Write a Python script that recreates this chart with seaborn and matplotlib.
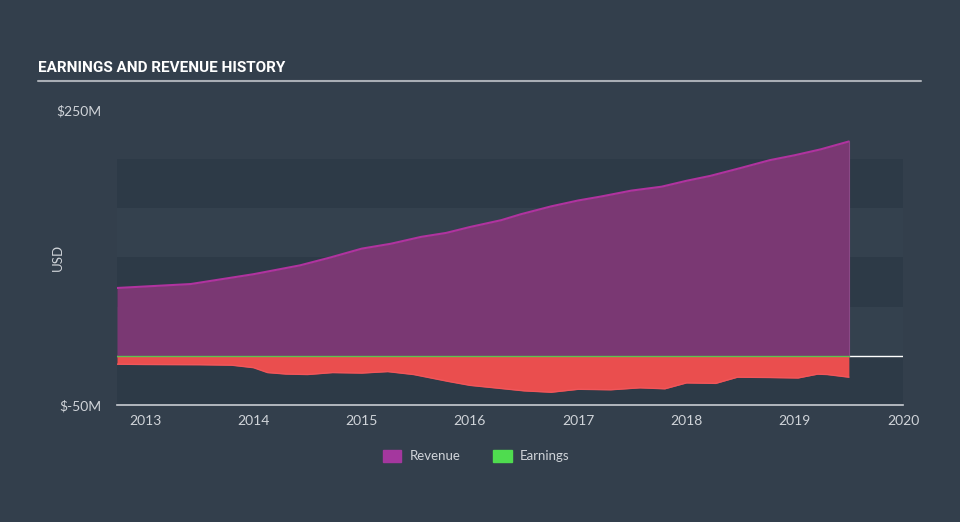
import matplotlib
matplotlib.use("Agg")
import matplotlib.pyplot as plt
import seaborn as sns
import numpy as np
import pandas as pd
from matplotlib.patches import Patch

rev_t = [2012.74, 2013.42, 2014.0, 2014.43, 2014.71, 2015.0, 2015.27, 2015.55, 2015.78,
         2016.0, 2016.29, 2016.47, 2016.75, 2017.0, 2017.21, 2017.49, 2017.77, 2018.0,
         2018.22, 2018.5, 2018.77, 2019.0, 2019.24, 2019.5]
rev_v = [69, 73, 83, 92, 100, 109, 114, 121, 125, 131, 138, 144, 152, 158, 162, 168,
         172, 178, 183, 191, 199, 204, 210, 218]

earn_t = [2012.74, 2013.0, 2013.5, 2013.8, 2014.0, 2014.13, 2014.3, 2014.5, 2014.73, 2015.0,
          2015.24, 2015.48, 2015.8, 2016.0, 2016.27, 2016.5, 2016.75, 2017.0, 2017.3,
          2017.57, 2017.8, 2018.0, 2018.27, 2018.47, 2018.75, 2019.03, 2019.21, 2019.3, 2019.5]
earn_v = [-8.5, -8.8, -9, -9.5, -12, -17, -18.5, -19, -17, -17.5, -16, -19, -26, -30,
          -33, -35.6, -37, -34, -34.5, -32.5, -33.5, -27.5, -28, -21.7, -22, -22.5, -18.6, -19, -21.7]

years = [2013, 2014, 2015, 2016, 2017, 2018, 2019, 2020]
ytick_vals = [-50, 250]
ytick_labels = ["$-50M", "$250M"]

BG = "#333f4c"
BAND = "#2d3a47"
REV_FILL = "#7a3873"
REV_LINE = "#b0339f"
EARN_FILL = "#ea4e4e"
EARN_LINE = "#5ec14f"
TXT = "#d0d4d9"

sns.set_theme(style="white")
plt.rcParams['font.family'] = ['Lato', 'DejaVu Sans']

fig = plt.figure(figsize=(9.6, 5.22), dpi=100, facecolor=BG)
ax = fig.add_axes([117/960, 1-405/522, (903-117)/960, (405-110)/522])
ax.set_facecolor("#34414e")

for lo in [-50, 50, 150]:
    ax.axhspan(lo, lo + 50, color=BAND, zorder=0, lw=0)
ax.axhspan(200, 250, color=BG, zorder=0, lw=0)

ax.axhline(0, color="white", lw=1.0, zorder=1)

rev = pd.DataFrame({"t": rev_t, "v": rev_v})
earn = pd.DataFrame({"t": earn_t, "v": earn_v})

ax.fill_between(rev["t"], 0, rev["v"], color=REV_FILL, lw=0, zorder=2)
sns.lineplot(data=rev, x="t", y="v", ax=ax, color=REV_LINE, lw=1.5, zorder=3)
ax.fill_between(earn["t"], 0, earn["v"], color=EARN_FILL, lw=0, zorder=2)
sns.lineplot(data=earn, x="t", y="v", ax=ax, color="#f0565a", lw=1.0, zorder=3)
ax.plot([rev_t[0], rev_t[-1]], [0, 0], color=EARN_LINE, lw=1.0, zorder=4)
ax.plot([rev_t[-1], rev_t[-1]], [0, rev_v[-1]], color="#8a4a86", lw=0.8, zorder=3)

ax.set_xlim(2012.74, 2020.0)
ax.set_ylim(-50, 250)
ax.set_xticks(years)
ax.set_xticklabels([str(y) for y in years], color=TXT, fontsize=10)
ax.set_yticks(ytick_vals)
ax.set_yticklabels(ytick_labels, color=TXT, fontsize=10)
ax.tick_params(axis="x", length=7, color="#c8ccd2", width=1, pad=0)
ax.tick_params(axis="y", length=0, pad=11)
ax.set_xlabel("")
ax.set_ylabel("USD", color=TXT, fontsize=9.5)
ax.yaxis.set_label_coords(-(117-64)/786, 0.5)
for s in ["top", "right", "left"]:
    ax.spines[s].set_visible(False)
ax.spines["bottom"].set_color("#c8ccd2")
ax.spines["bottom"].set_linewidth(1.2)

fig.text(38/960, 1-68/522, "EARNINGS AND REVENUE HISTORY", color="white",
         fontsize=11, fontweight="bold", va="center", ha="left",
         family=["Roboto", "DejaVu Sans"])
fig.add_artist(plt.Line2D([38/960, 921/960], [1-81/522, 1-81/522], color="#a9aeb5", lw=1.5))

handles = [Patch(color="#a4379e", label="Revenue"), Patch(color="#4fdc4f", label="Earnings")]
fig.legend(handles=handles, loc="center", bbox_to_anchor=(476/960, 1-456/522), ncol=2,
           frameon=False, fontsize=9.5, labelcolor=TXT, handlelength=1.4, handleheight=1.0,
           columnspacing=2.5, handletextpad=0.6)

fig.savefig("out.png", dpi=100, facecolor=BG)
